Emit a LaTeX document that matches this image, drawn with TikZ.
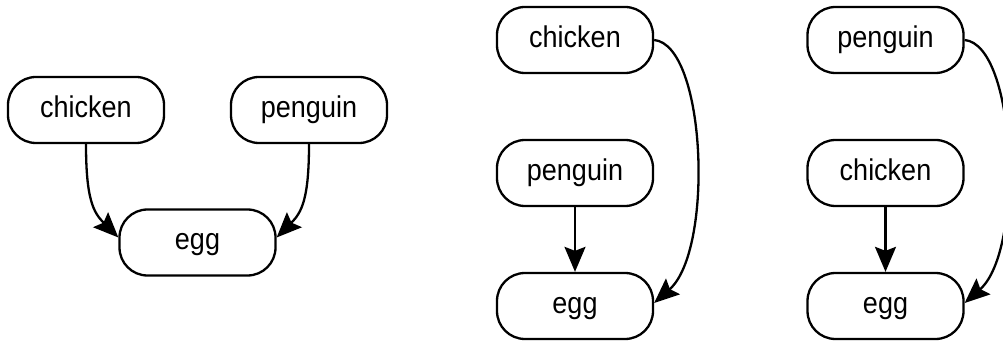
\documentclass[tikz,border=0pt]{standalone}
\usepackage{fontspec}
\setmainfont[FakeStretch=0.9]{Liberation Sans}
\usetikzlibrary{arrows.meta}
\tikzset{
  box/.style={draw, line width=2.3pt, rounded corners=28pt, minimum width=156pt, minimum height=66pt, inner sep=0pt, text height=20pt, text depth=5pt, font=\fontsize{30}{34}\selectfont},
  conn/.style={line width=2.3pt, -{Stealth[length=25pt, width=21pt, inset=4pt]}}
}
\begin{document}
\begin{tikzpicture}[x=1pt,y=1pt]
\clip (0,0) rectangle (1003,340);
% left
\node[box] (c1) at (86,230) {chicken};
\node[box] (p1) at (309,230) {penguin};
\node[box] (e1) at (197.5,97.5) {egg};
\draw[conn] (c1.south) .. controls +(0,-55) and +(-25,25) .. ([yshift=5pt]e1.west);
\draw[conn] (p1.south) .. controls +(0,-55) and +(25,25) .. ([yshift=5pt]e1.east);
% middle
\node[box] (c2) at (575,300) {chicken};
\node[box] (p2) at (575,167) {penguin};
\node[box] (e2) at (575,34) {egg};
\draw[conn] (p2.south) -- (e2.north);
\draw[conn] (c2.east) .. controls +(52,-5) and +(60,53) .. ([yshift=3pt]e2.east);
% right
\node[box] (p3) at (885.5,300) {penguin};
\node[box] (c3) at (885.5,167) {chicken};
\node[box] (e3) at (885.5,34) {egg};
\draw[conn] (c3.south) -- (e3.north);
\draw[conn] (p3.east) .. controls +(52,-5) and +(60,53) .. ([yshift=3pt]e3.east);
\end{tikzpicture}
\end{document}
